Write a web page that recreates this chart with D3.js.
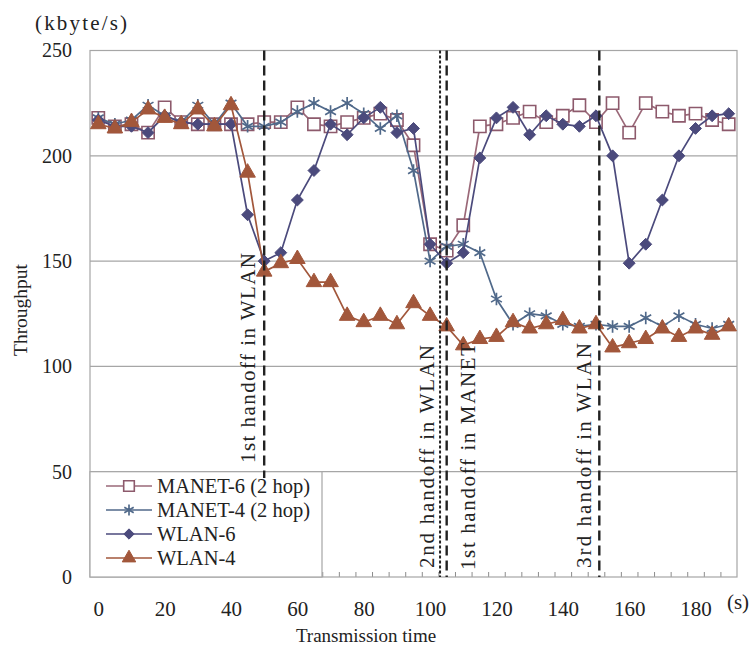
<!DOCTYPE html>
<html>
<head>
<meta charset="utf-8">
<script src="https://cdn.jsdelivr.net/npm/d3@7"></script>
<style>
  body { margin: 0; background: #fff; }
  text { font-family: "Liberation Serif", "Times New Roman", serif; fill: #222; }
</style>
</head>
<body>
<div id="chart"></div>
<script>
// data

var times = [0, 5, 10, 15, 20, 25, 30, 35, 40, 45, 50, 55, 60, 65, 70, 75, 80, 85, 90, 95,
  100, 105, 110, 115, 120, 125, 130, 135, 140, 145, 150, 155, 160, 165, 170, 175, 180, 185, 190];

var manet6 = [218, 214, 215, 211, 223, 216, 215, 215, 215, 215, 216, 216, 223, 215, 214, 216, 218, 220, 217, 205,
  158, 155, 167, 214, 215, 218, 221, 216, 219, 224, 216, 225, 211, 225, 221, 219, 220, 217, 215];

var manet4 = [218, 215, 217, 224, 219, 216, 224, 215, 225, 214, 214, 216, 221, 225, 221, 225, 220, 213, 219, 193,
  150, 157, 158, 154, 132, 120, 125, 124, 120, 119, 120, 119, 119, 123, 119, 124, 120, 118, 120];

var wlan6 = [217, 214, 214, 211, 219, 216, 215, 215, 215, 172, 150, 154, 179, 193, 215, 210, 218, 223, 211, 213,
  158, 149, 154, 199, 218, 223, 210, 219, 215, 214, 219, 200, 149, 158, 179, 200, 213, 219, 220];

var wlan4 = [215, 213, 216, 222, 218, 215, 222, 214, 224, 192, 145, 149, 151, 140, 140, 124, 121, 124, 120, 130,
  124, 119, 110, 113, 114, 121, 118, 120, 122, 118, 120, 109, 111, 113, 118, 114, 118, 115, 119];

var seriesNames = ["MANET-6 (2 hop)", "MANET-4 (2 hop)", "WLAN-6", "WLAN-4"];

var xTicks = [0, 20, 40, 60, 80, 100, 120, 140, 160, 180];
var yTicks = [0, 50, 100, 150, 200, 250];

// handoff events
var handoffTimes = [50, 103, 105, 151];
var handoffLabels = ["1st handoff in WLAN", "2nd handoff in WLAN", "1st handoff in MANET", "3rd handoff in WLAN"];

// SVG attributes
var W = 750, H = 647;
var plot = {left: 90, right: 737, top: 50.5, bottom: 577};

var svg = d3.select("#chart").append("svg")
  .attr("width", W)
  .attr("height", H);

var x = d3.scaleLinear().domain([-2.5, 192.5]).range([plot.left, plot.right]);
var y = d3.scaleLinear().domain([0, 250]).range([plot.bottom, plot.top]);

// gridlines
svg.append("g").selectAll("line")
  .data(yTicks.filter(function(d) { return d > 0 && d < 250; }))
  .enter().append("line")
  .attr("x1", plot.left).attr("x2", plot.right)
  .attr("y1", function(d) { return y(d); })
  .attr("y2", function(d) { return y(d); })
  .attr("stroke", "#a6a6a6")
  .attr("stroke-width", 1.2);

// minor ticks on the bottom edge (category boundaries)
var bounds = times.slice(1).map(function(t) { return t - 2.5; });
var minor = svg.append("g")
  .attr("transform", "translate(0," + plot.bottom + ")")
  .call(d3.axisBottom(x).tickValues(bounds).tickSize(-5).tickFormat(""));
minor.select(".domain").remove();
minor.selectAll("line").attr("stroke", "#8c8c8c");

// plot border
svg.append("rect")
  .attr("x", plot.left).attr("y", plot.top)
  .attr("width", plot.right - plot.left)
  .attr("height", plot.bottom - plot.top)
  .attr("fill", "none")
  .attr("stroke", "#a6a6a6")
  .attr("stroke-width", 1.2);

// axis labels
var yAxis = svg.append("g")
  .attr("transform", "translate(" + 72 + ",0)")
  .call(d3.axisLeft(y).tickValues(yTicks).tickSize(0).tickPadding(0));
yAxis.select(".domain").remove();
yAxis.attr("font-family", null);
yAxis.selectAll("text")
  .style("font-family", "'Liberation Serif', serif")
  .style("font-size", "20px")
  .attr("fill", "#222");

var xAxis = svg.append("g")
  .attr("transform", "translate(0," + plot.bottom + ")")
  .call(d3.axisBottom(x).tickValues(xTicks).tickSize(0).tickPadding(24));
xAxis.select(".domain").remove();
xAxis.attr("font-family", null);
xAxis.selectAll("text")
  .style("font-family", "'Liberation Serif', serif")
  .style("font-size", "21px")
  .attr("fill", "#222");

svg.append("text")
  .attr("x", 35).attr("y", 30)
  .attr("textLength", 92)
  .style("font-size", "21px")
  .text("(kbyte/s)");

svg.append("text")
  .attr("x", 738).attr("y", 609)
  .attr("text-anchor", "middle")
  .style("font-size", "21px")
  .text("(s)");

svg.append("text")
  .attr("x", 366).attr("y", 642)
  .attr("text-anchor", "middle")
  .style("font-size", "19px")
  .text("Transmission time");

svg.append("text")
  .attr("transform", "translate(27,310) rotate(-90)")
  .attr("text-anchor", "middle")
  .style("font-size", "19.5px")
  .text("Throughput");

// series
var series = [
  {name: seriesNames[0], values: manet6, line: "#9a6878", stroke: "#8d5a6c", fill: "#fff", symbol: d3.symbolSquare, size: 150, sw: 1.6},
  {name: seriesNames[1], values: manet4, line: "#50698a", stroke: "#50698a", fill: "none", symbol: d3.symbolAsterisk, size: 110, sw: 1.7},
  {name: seriesNames[2], values: wlan6, line: "#4b4a7c", stroke: "#4b4a7c", fill: "#4b4a7c", symbol: d3.symbolDiamond2, size: 90, sw: 1},
  {name: seriesNames[3], values: wlan4, line: "#a2573b", stroke: "#a2573b", fill: "#a2573b", symbol: d3.symbolTriangle, size: 105, sw: 1}
];

var line = d3.line()
  .x(function(d, i) { return x(times[i]); })
  .y(function(d) { return y(d); });

series.forEach(function(s) {
  var g = svg.append("g");
  g.append("path")
    .datum(s.values)
    .attr("d", line)
    .attr("fill", "none")
    .attr("stroke", s.line)
    .attr("stroke-width", 1.7);
  g.selectAll("path.pt")
    .data(s.values)
    .enter().append("path")
    .attr("class", "pt")
    .attr("d", d3.symbol().type(s.symbol).size(s.size))
    .attr("transform", function(d, i) { return "translate(" + x(times[i]) + "," + y(d) + ")"; })
    .attr("fill", s.fill)
    .attr("stroke", s.stroke)
    .attr("stroke-width", s.sw);
});

// legend
var lg = svg.append("g");
lg.append("rect")
  .attr("x", plot.left).attr("y", y(50))
  .attr("width", 232).attr("height", plot.bottom - y(50))
  .attr("fill", "#fff")
  .attr("stroke", "#a6a6a6")
  .attr("stroke-width", 1.2);

series.forEach(function(s, i) {
  var ly = 486 + i * 24;
  lg.append("line")
    .attr("x1", 106).attr("x2", 152)
    .attr("y1", ly).attr("y2", ly)
    .attr("stroke", s.line)
    .attr("stroke-width", 1.7);
  lg.append("path")
    .attr("d", d3.symbol().type(s.symbol).size(s.size * 0.75))
    .attr("transform", "translate(129," + ly + ")")
    .attr("fill", s.fill)
    .attr("stroke", s.stroke)
    .attr("stroke-width", s.sw);
  lg.append("text")
    .attr("x", 157).attr("y", ly + 7)
    .style("font-size", "20.5px")
    .text(s.name);
});

// handoff markers
var hBottom = [478, plot.bottom, plot.bottom, plot.bottom];
var hDash = ["10,5", "3,2", "10,5", "10,5"];
var hWidth = [2.4, 2, 2.4, 2.4];
svg.append("g").selectAll("line")
  .data(handoffTimes)
  .enter().append("line")
  .attr("x1", function(d) { return x(d); })
  .attr("x2", function(d) { return x(d); })
  .attr("y1", plot.top)
  .attr("y2", function(d, i) { return hBottom[i]; })
  .attr("stroke", "#222")
  .attr("stroke-width", function(d, i) { return hWidth[i]; })
  .attr("stroke-dasharray", function(d, i) { return hDash[i]; });

var labelX = [248, 427, 468, 584];
var labelY = [463, 568, 570, 568];
var labelLen = [210, 223, 227, 225];
svg.append("g").selectAll("text")
  .data(handoffLabels)
  .enter().append("text")
  .attr("transform", function(d, i) { return "translate(" + (labelX[i] + 7) + "," + labelY[i] + ") rotate(-90)"; })
  .attr("textLength", function(d, i) { return labelLen[i]; })
  .style("font-size", "21px")
  .text(function(d) { return d; });
</script>
</body>
</html>
